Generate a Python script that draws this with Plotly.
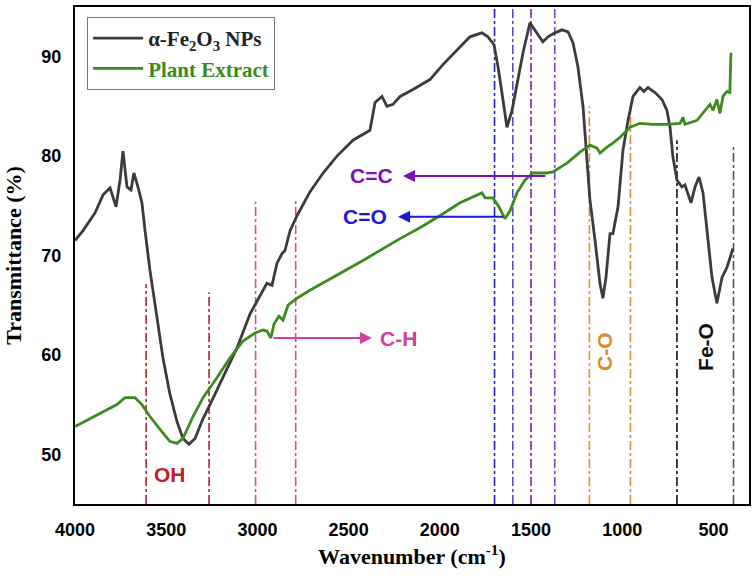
import plotly.graph_objects as go

# ---------------- data ----------------
fe2o3_wn = [4000, 3956, 3901, 3890, 3846, 3808, 3775, 3753, 3737, 3715, 3693, 3677, 3655, 3633,
            3616, 3589, 3550, 3518, 3480, 3441, 3408, 3375, 3342, 3298, 3260, 3189, 3112, 3041,
            2975, 2948, 2920, 2893, 2865, 2849, 2821, 2783, 2712, 2640, 2564, 2476, 2383, 2355,
            2317, 2290, 2257, 2218, 2147, 2054, 1983, 1906, 1835, 1769, 1736, 1703, 1681, 1654,
            1632, 1604, 1577, 1544, 1506, 1478, 1435, 1407, 1369, 1330, 1297, 1270, 1243, 1215,
            1193, 1177, 1149, 1122, 1106, 1089, 1067, 1051, 1023, 996, 968, 941, 903, 881, 859,
            820, 782, 755, 738, 722, 700, 673, 656, 623, 601, 579, 557, 535, 508, 481, 453, 426, 393]
fe2o3_t = [71.5, 72.5, 74.0, 74.3, 76.1, 76.8, 74.9, 77.6, 80.5, 76.9, 76.6, 78.3, 76.9, 75.3,
           72.5, 68.5, 63.7, 59.7, 56.1, 53.3, 51.6, 51.0, 51.6, 53.6, 55.0, 57.7, 60.7, 64.1,
           66.2, 67.2, 67.0, 69.2, 70.2, 70.5, 72.5, 74.0, 76.4, 78.3, 80.0, 81.6, 82.6, 85.4,
           86.0, 85.0, 85.2, 86.0, 86.7, 87.7, 89.2, 90.7, 92.0, 92.4, 92.0, 91.2, 89.0, 85.7,
           82.9, 84.6, 87.4, 90.4, 93.4, 92.7, 91.5, 92.0, 92.4, 92.7, 92.5, 91.4, 89.0, 85.0,
           78.9, 75.6, 71.5, 67.2, 65.7, 67.8, 72.2, 72.2, 74.9, 80.6, 83.6, 86.0, 86.9, 86.5, 86.9,
           86.4, 85.7, 84.6, 82.9, 79.9, 77.6, 76.9, 77.1, 75.3, 76.9, 77.9, 76.3, 72.2, 67.8, 65.2, 67.8, 68.8, 70.7]

plant_wn = [4000, 3918, 3846, 3770, 3726, 3671, 3633, 3589, 3534, 3480, 3441, 3408, 3353, 3298,
            3222, 3150, 3079, 3013, 2969, 2948, 2926, 2909, 2882, 2860, 2832, 2783, 2712, 2564,
            2421, 2218, 2109, 2000, 1889, 1769, 1752, 1709, 1676, 1643, 1615, 1577, 1533, 1489,
            1413, 1380, 1303, 1232, 1177, 1138, 1122, 1084, 1051, 1012, 957, 903, 831, 755, 683,
            667, 656, 590, 557, 519, 502, 481, 464, 448, 426, 410, 404]
plant_t = [52.8, 53.6, 54.3, 55.0, 55.7, 55.7, 55.0, 53.8, 52.5, 51.3, 51.1, 51.6, 53.8, 55.7,
           57.7, 59.7, 61.4, 62.2, 62.5, 62.4, 61.7, 63.1, 63.9, 63.5, 65.0, 65.7, 66.5, 68.0,
           69.5, 71.7, 72.8, 74.0, 75.3, 76.3, 75.8, 75.8, 74.9, 73.7, 74.5, 76.3, 77.6, 78.3,
           78.3, 78.4, 79.3, 80.4, 81.1, 80.8, 80.3, 80.9, 81.3, 81.9, 82.9, 83.3, 83.2, 83.2, 83.3,
           83.9, 83.2, 83.6, 84.3, 85.2, 84.6, 85.7, 84.3, 86.0, 86.5, 86.4, 90.4]

# band marker lines: position, top value, colour
band_x = [3610, 3265, 3010, 2790, 1700, 1600, 1500, 1370, 1180, 955, 700, 390]
band_top = [67.1, 66.3, 75.4, 75.5, 95, 95, 95, 95, 85.0, 85.0, 81.6, 81.0]
band_color = ["#b3202a", "#b3202a", "#d64aa8", "#d64aa8", "#1f1fd6", "#4a4ae0",
              "#7a1fb8", "#8a3ad0", "#e0952a", "#e0882a", "#111111", "#555555"]

# labels: text, x, y, colour, rotation
label_text = ["OH", "C-H", "C=O", "C=C", "C-O", "Fe-O"]
label_x = [3479, 2229, 2410, 2372, 1094, 541]
label_y = [48.0, 61.7, 73.9, 78.0, 60.3, 60.8]
label_color = ["#c0202a", "#d2409e", "#1a1ad8", "#7a10b8", "#e0892a", "#111111"]
label_angle = [0, 0, 0, 0, -90, -90]

# arrows: tail (x, y) -> head (x, y), colour
arrow_tail_x = [2920, 1643, 1413]
arrow_head_x = [2372, 2229, 2202]
arrow_y = [61.7, 73.9, 78.0]
arrow_color = ["#d2409e", "#1a1ad8", "#7a10b8"]

fig = go.Figure()
fig.add_trace(go.Scatter(x=fe2o3_wn, y=fe2o3_t, mode="lines",
                         name="α-Fe<sub>2</sub>O<sub>3</sub> NPs",
                         line=dict(color="#3c3c3c", width=2.8)))
fig.add_trace(go.Scatter(x=plant_wn, y=plant_t, mode="lines",
                         name='<span style="color:#3a8a1e">Plant Extract</span>',
                         line=dict(color="#3d8b1f", width=2.8)))

for bx, bt, bc in zip(band_x, band_top, band_color):
    fig.add_shape(type="line", xref="x", yref="y", x0=bx, x1=bx, y0=45, y1=bt,
                  line=dict(color=bc, width=1.6, dash="dashdot"), layer="below")

for tx, hx, ay, ac in zip(arrow_tail_x, arrow_head_x, arrow_y, arrow_color):
    fig.add_annotation(x=hx, y=ay, ax=tx, ay=ay, xref="x", yref="y", axref="x", ayref="y",
                       text="", showarrow=True, arrowhead=2, arrowsize=1.2, arrowwidth=2,
                       arrowcolor=ac)

for t, lx, ly, lc, la in zip(label_text, label_x, label_y, label_color, label_angle):
    fig.add_annotation(x=lx, y=ly, xref="x", yref="y", text=t, showarrow=False, textangle=la,
                       font=dict(family="Liberation Sans, Arial", size=21, color=lc, weight="bold"))

fig.update_layout(
    width=754, height=576,
    margin=dict(l=75, r=5, t=7, b=72, autoexpand=False),
    paper_bgcolor="white", plot_bgcolor="white",
    showlegend=True,
    legend=dict(x=0.018, y=0.98, xanchor="left", yanchor="top",
                bgcolor="white", bordercolor="#777777", borderwidth=1,
                font=dict(family="Liberation Serif, Times New Roman", size=21, color="#222222",
                          weight="bold"),
                itemwidth=50, tracegroupgap=0),
)
fig.update_xaxes(range=[4000, 305], showgrid=False, zeroline=False, automargin=False,
                 showline=True, linecolor="black", linewidth=2, mirror=True,
                 tickvals=[4000, 3500, 3000, 2500, 2000, 1500, 1000, 500],
                 ticks="outside", ticklen=8, tickcolor="rgba(0,0,0,0)",
                 tickfont=dict(family="Liberation Sans, Arial", size=18, color="black", weight="bold"),
                 title=dict(text="Wavenumber (cm<sup>-1</sup>)", standoff=10,
                            font=dict(family="Liberation Serif, Times New Roman", size=22,
                                      color="black", weight="bold")))
fig.update_yaxes(range=[45, 95], showgrid=False, zeroline=False, automargin=False,
                 showline=True, linecolor="black", linewidth=2, mirror=True,
                 tickvals=[50, 60, 70, 80, 90],
                 ticks="outside", ticklen=8, tickcolor="rgba(0,0,0,0)",
                 tickfont=dict(family="Liberation Sans, Arial", size=18, color="black", weight="bold"),
                 title=dict(text="Transmittance (%)", standoff=14,
                            font=dict(family="Liberation Serif, Times New Roman", size=22,
                                      color="black", weight="bold")))

fig.write_html("out.html", config={"displayModeBar": False},
               post_script="document.body.style.margin='0px';document.body.style.padding='0px';")
